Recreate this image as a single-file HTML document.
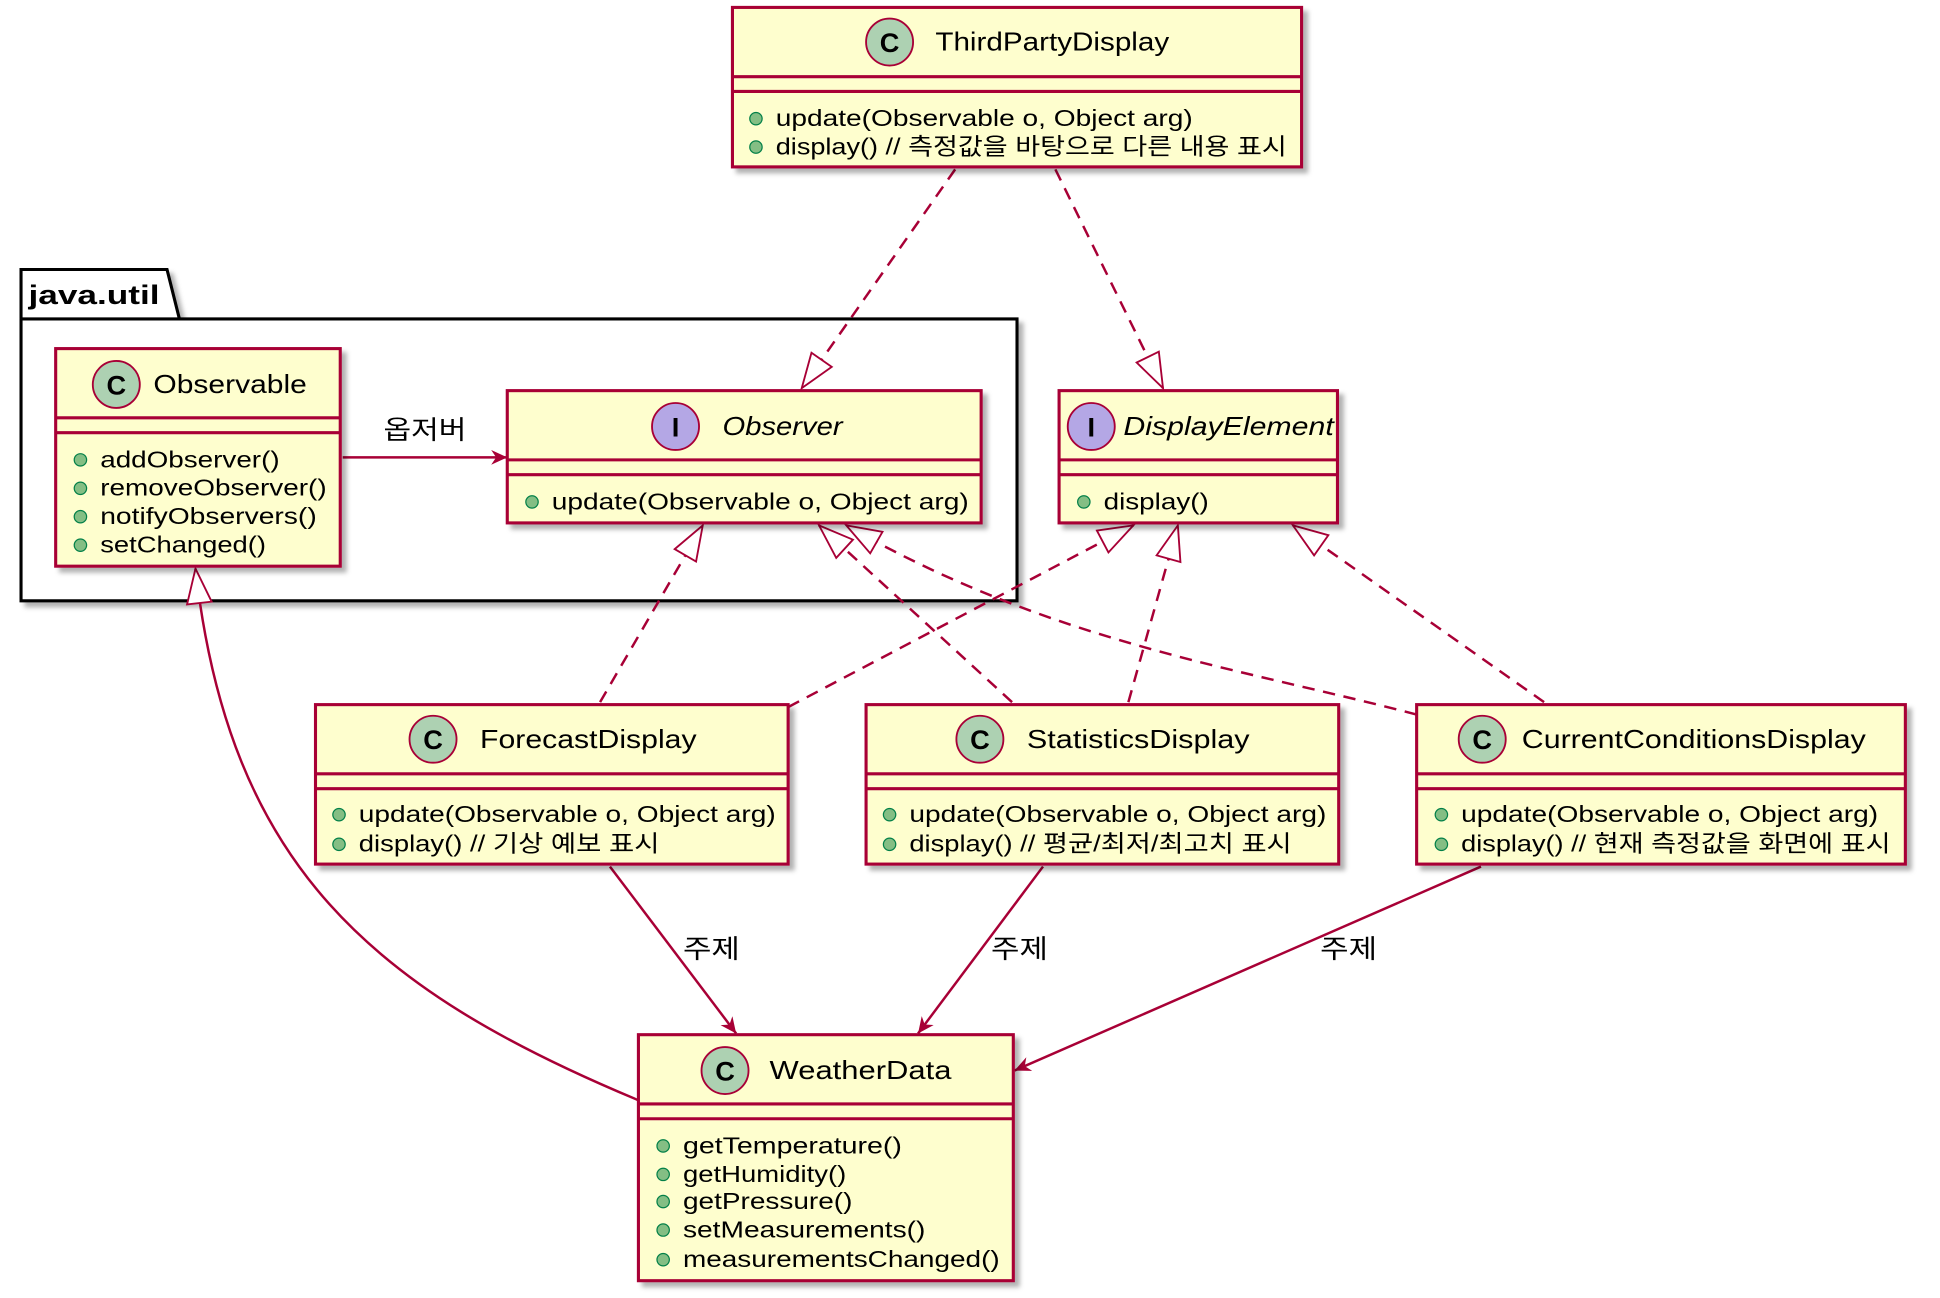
<!DOCTYPE html>
<html><head><meta charset="utf-8"><style>
html,body{margin:0;padding:0;background:#fff;}
svg{display:block;}
text{font-family:"Liberation Sans","Noto Sans CJK KR",sans-serif;fill:#000;}
.b{fill:#FEFECE;stroke:#A80036;stroke-width:2.5;}
.l{stroke:#A80036;stroke-width:2.5;}
.e{stroke:#A80036;stroke-width:2;fill:none;}
.d{stroke-dasharray:10,7;}
.t{font-size:21px;}
.m{font-size:19px;}
.dot{fill:#84BE84;stroke:#038048;stroke-width:1;}
</style></head><body>
<svg width="1940" height="1298" viewBox="0 0 1568 1050" preserveAspectRatio="none" xmlns="http://www.w3.org/2000/svg">
<defs>
<marker id="tri" markerUnits="userSpaceOnUse" markerWidth="34" markerHeight="28" refX="30" refY="12" orient="auto">
<path d="M2,2 L30,12 L2,22 Z" fill="#fff" stroke="#A80036" stroke-width="1.5"/></marker>
<marker id="arr" markerUnits="userSpaceOnUse" markerWidth="16" markerHeight="14" refX="13" refY="6" orient="auto">
<path d="M0,0 L13,6 L0,12 L4,6 Z" fill="#A80036"/></marker>
<filter id="sh" x="-5%" y="-5%" width="115%" height="115%"><feDropShadow dx="4" dy="4" stdDeviation="2" flood-color="#000" flood-opacity="0.3"/></filter>
</defs>

<g filter="url(#sh)">
<path d="M17,258 L17,218 L135,218 L145,258 L822,258 L822,486 L17,486 Z" fill="#fff" stroke="#000" stroke-width="2.5"/>
</g>
<line x1="17" y1="258" x2="145" y2="258" stroke="#000" stroke-width="2.5"/>
<text x="23" y="246" style="font-size:22px;font-weight:bold" textLength="106" lengthAdjust="spacingAndGlyphs">java.util</text>

<path class="e d" d="M772,137 L648,314" marker-end="url(#tri)"/>
<path class="e d" d="M853,137 L940,314" marker-end="url(#tri)"/>
<path class="e" d="M277,370 L410,370" marker-end="url(#arr)"/>
<text x="310" y="355" class="t" textLength="67" lengthAdjust="spacingAndGlyphs">옵저버</text>
<path class="e d" d="M485,568 L568,425" marker-end="url(#tri)"/>
<path class="e d" d="M637,572 L916,425" marker-end="url(#tri)"/>
<path class="e d" d="M818,568 L662,425" marker-end="url(#tri)"/>
<path class="e d" d="M912,568 L952,425" marker-end="url(#tri)"/>
<path class="e d" d="M1145,578 C1000,540 850,520 684,425" marker-end="url(#tri)"/>
<path class="e d" d="M1248,568 L1045,425" marker-end="url(#tri)"/>
<path class="e" d="M516,890 C300,800 185,700 158,460" marker-end="url(#tri)"/>
<path class="e" d="M493,701 L595,836" marker-end="url(#arr)"/>
<text x="552" y="775" class="t" textLength="46" lengthAdjust="spacingAndGlyphs">주제</text>
<path class="e" d="M843,701 L742,836" marker-end="url(#arr)"/>
<text x="801" y="775" class="t" textLength="46" lengthAdjust="spacingAndGlyphs">주제</text>
<path class="e" d="M1197,701 L820,866" marker-end="url(#arr)"/>
<text x="1067" y="775" class="t" textLength="46" lengthAdjust="spacingAndGlyphs">주제</text>

<!-- ThirdPartyDisplay -->
<rect class="b" x="592" y="6" width="460" height="129" filter="url(#sh)"/>
<line class="l" x1="592" y1="62" x2="1052" y2="62"/><line class="l" x1="592" y1="74" x2="1052" y2="74"/>
<circle cx="719" cy="34" r="19" fill="#ADD1B2" stroke="#A80036" stroke-width="1.5"/><text x="719" y="42" text-anchor="middle" style="font-size:22px;font-weight:bold">C</text>
<text x="756" y="41" class="t" textLength="189" lengthAdjust="spacingAndGlyphs">ThirdPartyDisplay</text>
<circle class="dot" cx="611" cy="96" r="5"/><text x="627" y="102" class="m" textLength="337" lengthAdjust="spacingAndGlyphs">update(Observable o, Object arg)</text>
<circle class="dot" cx="611" cy="119" r="5"/><text x="627" y="125" class="m" textLength="413" lengthAdjust="spacingAndGlyphs">display() // 측정값을 바탕으로 다른 내용 표시</text>

<!-- Observable -->
<rect class="b" x="45" y="282" width="230" height="176" filter="url(#sh)"/>
<line class="l" x1="45" y1="338" x2="275" y2="338"/><line class="l" x1="45" y1="350" x2="275" y2="350"/>
<circle cx="94" cy="311" r="19" fill="#ADD1B2" stroke="#A80036" stroke-width="1.5"/><text x="94" y="319" text-anchor="middle" style="font-size:22px;font-weight:bold">C</text>
<text x="124" y="318" class="t" textLength="124" lengthAdjust="spacingAndGlyphs">Observable</text>
<circle class="dot" cx="65" cy="372" r="5"/><text x="81" y="378" class="m" textLength="145" lengthAdjust="spacingAndGlyphs">addObserver()</text>
<circle class="dot" cx="65" cy="395" r="5"/><text x="81" y="401" class="m" textLength="183" lengthAdjust="spacingAndGlyphs">removeObserver()</text>
<circle class="dot" cx="65" cy="418" r="5"/><text x="81" y="424" class="m" textLength="175" lengthAdjust="spacingAndGlyphs">notifyObservers()</text>
<circle class="dot" cx="65" cy="441" r="5"/><text x="81" y="447" class="m" textLength="134" lengthAdjust="spacingAndGlyphs">setChanged()</text>

<!-- Observer -->
<rect class="b" x="410" y="316" width="383" height="107" filter="url(#sh)"/>
<line class="l" x1="410" y1="372" x2="793" y2="372"/><line class="l" x1="410" y1="384" x2="793" y2="384"/>
<circle cx="546" cy="345" r="19" fill="#B4A7E5" stroke="#A80036" stroke-width="1.5"/><text x="546" y="353" text-anchor="middle" style="font-size:22px;font-weight:bold">I</text>
<text x="584" y="352" class="t" font-style="italic" textLength="97" lengthAdjust="spacingAndGlyphs">Observer</text>
<circle class="dot" cx="430" cy="406" r="5"/><text x="446" y="412" class="m" textLength="337" lengthAdjust="spacingAndGlyphs">update(Observable o, Object arg)</text>

<!-- DisplayElement -->
<rect class="b" x="856" y="316" width="225" height="107" filter="url(#sh)"/>
<line class="l" x1="856" y1="372" x2="1081" y2="372"/><line class="l" x1="856" y1="384" x2="1081" y2="384"/>
<circle cx="882" cy="345" r="19" fill="#B4A7E5" stroke="#A80036" stroke-width="1.5"/><text x="882" y="353" text-anchor="middle" style="font-size:22px;font-weight:bold">I</text>
<text x="908" y="352" class="t" font-style="italic" textLength="170" lengthAdjust="spacingAndGlyphs">DisplayElement</text>
<circle class="dot" cx="876" cy="406" r="5"/><text x="892" y="412" class="m" textLength="85" lengthAdjust="spacingAndGlyphs">display()</text>

<!-- ForecastDisplay -->
<rect class="b" x="255" y="570" width="382" height="129" filter="url(#sh)"/>
<line class="l" x1="255" y1="626" x2="637" y2="626"/><line class="l" x1="255" y1="638" x2="637" y2="638"/>
<circle cx="350" cy="598" r="19" fill="#ADD1B2" stroke="#A80036" stroke-width="1.5"/><text x="350" y="606" text-anchor="middle" style="font-size:22px;font-weight:bold">C</text>
<text x="388" y="605" class="t" textLength="175" lengthAdjust="spacingAndGlyphs">ForecastDisplay</text>
<circle class="dot" cx="274" cy="659" r="5"/><text x="290" y="665" class="m" textLength="337" lengthAdjust="spacingAndGlyphs">update(Observable o, Object arg)</text>
<circle class="dot" cx="274" cy="683" r="5"/><text x="290" y="689" class="m" textLength="243" lengthAdjust="spacingAndGlyphs">display() // 기상 예보 표시</text>

<!-- StatisticsDisplay -->
<rect class="b" x="700" y="570" width="382" height="129" filter="url(#sh)"/>
<line class="l" x1="700" y1="626" x2="1082" y2="626"/><line class="l" x1="700" y1="638" x2="1082" y2="638"/>
<circle cx="792" cy="598" r="19" fill="#ADD1B2" stroke="#A80036" stroke-width="1.5"/><text x="792" y="606" text-anchor="middle" style="font-size:22px;font-weight:bold">C</text>
<text x="830" y="605" class="t" textLength="180" lengthAdjust="spacingAndGlyphs">StatisticsDisplay</text>
<circle class="dot" cx="719" cy="659" r="5"/><text x="735" y="665" class="m" textLength="337" lengthAdjust="spacingAndGlyphs">update(Observable o, Object arg)</text>
<circle class="dot" cx="719" cy="683" r="5"/><text x="735" y="689" class="m" textLength="309" lengthAdjust="spacingAndGlyphs">display() // 평균/최저/최고치 표시</text>

<!-- CurrentConditionsDisplay -->
<rect class="b" x="1145" y="570" width="395" height="129" filter="url(#sh)"/>
<line class="l" x1="1145" y1="626" x2="1540" y2="626"/><line class="l" x1="1145" y1="638" x2="1540" y2="638"/>
<circle cx="1198" cy="598" r="19" fill="#ADD1B2" stroke="#A80036" stroke-width="1.5"/><text x="1198" y="606" text-anchor="middle" style="font-size:22px;font-weight:bold">C</text>
<text x="1230" y="605" class="t" textLength="278" lengthAdjust="spacingAndGlyphs">CurrentConditionsDisplay</text>
<circle class="dot" cx="1165" cy="659" r="5"/><text x="1181" y="665" class="m" textLength="337" lengthAdjust="spacingAndGlyphs">update(Observable o, Object arg)</text>
<circle class="dot" cx="1165" cy="683" r="5"/><text x="1181" y="689" class="m" textLength="347" lengthAdjust="spacingAndGlyphs">display() // 현재 측정값을 화면에 표시</text>

<!-- WeatherData -->
<rect class="b" x="516" y="837" width="303" height="199" filter="url(#sh)"/>
<line class="l" x1="516" y1="893" x2="819" y2="893"/><line class="l" x1="516" y1="905" x2="819" y2="905"/>
<circle cx="586" cy="866" r="19" fill="#ADD1B2" stroke="#A80036" stroke-width="1.5"/><text x="586" y="874" text-anchor="middle" style="font-size:22px;font-weight:bold">C</text>
<text x="622" y="873" class="t" textLength="147" lengthAdjust="spacingAndGlyphs">WeatherData</text>
<circle class="dot" cx="536" cy="927" r="5"/><text x="552" y="933" class="m" textLength="177" lengthAdjust="spacingAndGlyphs">getTemperature()</text>
<circle class="dot" cx="536" cy="950" r="5"/><text x="552" y="956" class="m" textLength="132" lengthAdjust="spacingAndGlyphs">getHumidity()</text>
<circle class="dot" cx="536" cy="972" r="5"/><text x="552" y="978" class="m" textLength="137" lengthAdjust="spacingAndGlyphs">getPressure()</text>
<circle class="dot" cx="536" cy="995" r="5"/><text x="552" y="1001" class="m" textLength="196" lengthAdjust="spacingAndGlyphs">setMeasurements()</text>
<circle class="dot" cx="536" cy="1019" r="5"/><text x="552" y="1025" class="m" textLength="256" lengthAdjust="spacingAndGlyphs">measurementsChanged()</text>
</svg>
</body></html>
